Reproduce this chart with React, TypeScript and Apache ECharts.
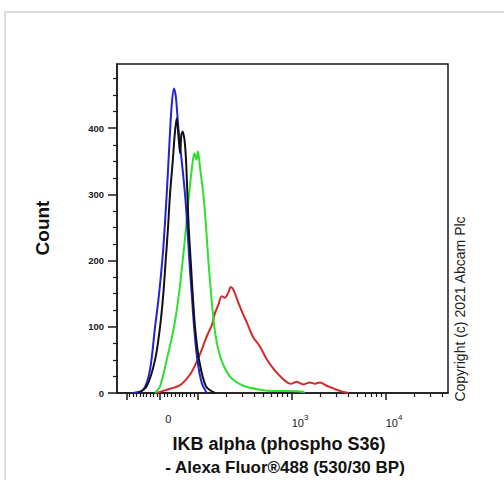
import React, { useEffect, useRef } from 'react';
import * as echarts from 'echarts';

// x values are in display units of the biexponential axis (10^2 -> 2, 10^3 -> 3, 10^4 -> 4)
const blueX = [1.315, 1.421, 1.492, 1.546, 1.581, 1.610, 1.634, 1.670, 1.698, 1.723, 1.748, 1.769, 1.794, 1.830, 1.865, 1.890, 1.911, 1.936, 1.961, 1.996, 2.043, 2.096];
const blueCount = [0, 5, 35, 100, 140, 180, 220, 300, 375, 435, 460, 445, 400, 350, 300, 250, 200, 150, 100, 50, 15, 0];

const blackX = [1.368, 1.457, 1.546, 1.599, 1.634, 1.659, 1.684, 1.705, 1.734, 1.755, 1.776, 1.794, 1.812, 1.826, 1.840, 1.861, 1.876, 1.890, 1.904, 1.925, 1.946, 1.971, 2.014, 2.088, 2.184];
const blackCount = [0, 10, 50, 100, 150, 200, 250, 300, 350, 390, 415, 390, 362, 390, 395, 380, 350, 300, 250, 200, 150, 100, 50, 10, 0];

const greenX = [1.546, 1.599, 1.670, 1.748, 1.801, 1.840, 1.876, 1.908, 1.947, 1.965, 1.980, 1.989, 2.000, 2.007, 2.025, 2.060, 2.089, 2.113, 2.142, 2.177, 2.220, 2.280, 2.362, 2.486, 2.663, 2.805, 2.947, 3.124, 3.130];
const greenCount = [0, 10, 50, 100, 150, 200, 250, 300, 350, 362, 355, 352, 365, 362, 340, 300, 250, 200, 150, 100, 65, 40, 22, 11, 5, 3, 3, 2, 0];

const redX = [1.564, 1.670, 1.812, 1.918, 1.989, 2.042, 2.078, 2.113, 2.149, 2.184, 2.219, 2.255, 2.290, 2.326, 2.351, 2.379, 2.415, 2.450, 2.485, 2.521, 2.556, 2.591, 2.627, 2.663, 2.734, 2.805, 2.893, 2.964, 3.000, 3.053, 3.088, 3.124, 3.195, 3.248, 3.301, 3.372, 3.443, 3.514, 3.567, 3.602];
const redCount = [0, 5, 12, 28, 47, 65, 79, 91, 102, 121, 133, 146, 144, 152, 160, 156, 143, 130, 118, 107, 95, 84, 77, 70, 51, 37, 23, 15, 14, 17, 15, 13, 16, 14, 16, 11, 7, 3, 1, 0];

const xMajorTicks = [-100, 0, 100, 1000, 10000];
const xMinorTicks = [-90, -80, -70, -60, -50, -40, -30, -20, -10, 10, 20, 30, 40, 50, 60, 70, 80, 90,
  200, 300, 400, 500, 600, 700, 800, 900, 2000, 3000, 4000, 5000, 6000, 7000, 8000, 9000, 20000, 30000, 40000];
const xLabelValues = [0, 1000, 10000];
const yMajorTicks = [0, 100, 200, 300, 400];
const yMinorTicks = [25, 50, 75, 125, 150, 175, 225, 250, 275, 325, 350, 375, 425, 450, 475];

const X_MIN = 1.141;
const X_MAX = 4.663;
const Y_MAX = 497;

function toDisplay(v: number): number {
  if (v >= 100) return Math.log10(v);
  if (v >= 0) return 1.6 + 0.004 * v;
  return 1.6 + 0.0036 * v;
}

const zip = (xs: number[], ys: number[]) => xs.map((x, i) => [x, ys[i]]);

const FONT = '"Liberation Sans", Arial, Helvetica, sans-serif';
const AXIS_COLOR = '#1a1a1a';

export default function App() {
  const ref = useRef<HTMLDivElement>(null);
  useEffect(() => {
    document.body.style.margin = '0';
    if (!ref.current) return;
    const chart = echarts.init(ref.current, null, { renderer: 'svg' });
    const lineSeries = (name: string, xs: number[], ys: number[], color: string) => ({
      name,
      type: 'line',
      data: zip(xs, ys),
      showSymbol: false,
      smooth: 0.3,
      lineStyle: { color, width: 2 },
      itemStyle: { color },
      xAxisIndex: 0,
      yAxisIndex: 0,
    });
    chart.setOption({
      animation: false,
      backgroundColor: '#ffffff',
      grid: {
        left: 117, top: 64, right: 56, bottom: 87,
        show: true, borderColor: AXIS_COLOR, borderWidth: 1.5, backgroundColor: 'transparent',
      },
      xAxis: [
        {
          type: 'value', min: X_MIN, max: X_MAX, position: 'bottom',
          axisLine: { show: true, onZero: false, lineStyle: { color: AXIS_COLOR, width: 1.5 } },
          axisTick: { show: true, customValues: xMajorTicks.map(toDisplay), length: 7, lineStyle: { color: AXIS_COLOR, width: 1.5 } },
          axisLabel: {
            show: true,
            customValues: xLabelValues.map(toDisplay),
            align: 'left',
            margin: 20,
            color: '#222',
            fontFamily: FONT,
            formatter: (v: number) => {
              if (Math.abs(v - 3) < 0.01) return '{b|10}{s|3}';
              if (Math.abs(v - 4) < 0.01) return '{b|10}{s|4}';
              return '{z|0}';
            },
            rich: {
              b: { fontSize: 11, fontFamily: FONT, color: '#222', verticalAlign: 'bottom' },
              s: { fontSize: 8, fontFamily: FONT, color: '#222', verticalAlign: 'bottom', padding: [0, 0, 7, 0] },
              z: { fontSize: 11, fontFamily: FONT, color: '#222', padding: [0, 0, 0, 5] },
            },
          },
          splitLine: { show: false },
        },
        {
          type: 'value', min: X_MIN, max: X_MAX, position: 'bottom',
          axisLine: { show: false, onZero: false },
          axisTick: { show: true, customValues: xMinorTicks.map(toDisplay), length: 4, lineStyle: { color: AXIS_COLOR, width: 1.2 } },
          axisLabel: { show: false },
          splitLine: { show: false },
        },
      ],
      yAxis: [
        {
          type: 'value', min: 0, max: Y_MAX, position: 'left',
          axisLine: { show: true, onZero: false, lineStyle: { color: AXIS_COLOR, width: 1.5 } },
          axisTick: { show: true, customValues: yMajorTicks, length: 9, lineStyle: { color: AXIS_COLOR, width: 1.5 } },
          axisLabel: {
            show: true, customValues: yMajorTicks, margin: 13,
            fontSize: 9.5, fontWeight: 'bold', color: '#222', fontFamily: FONT,
          },
          splitLine: { show: false },
        },
        {
          type: 'value', min: 0, max: Y_MAX, position: 'left',
          axisLine: { show: false, onZero: false },
          axisTick: { show: true, customValues: yMinorTicks, length: 4, lineStyle: { color: AXIS_COLOR, width: 1.2 } },
          axisLabel: { show: false },
          splitLine: { show: false },
        },
      ],
      series: [
        lineSeries('Red', redX, redCount, '#d42a2a'),
        lineSeries('Green', greenX, greenCount, '#2ee02e'),
        lineSeries('Blue', blueX, blueCount, '#2222d8'),
        lineSeries('Black', blackX, blackCount, '#111111'),
      ],
      graphic: [
        {
          type: 'rect', z: -10, silent: true,
          shape: { x: 5, y: 12, width: 620, height: 620 },
          style: { fill: 'none', stroke: '#dcdcdc', lineWidth: 2 },
        },
        {
          type: 'text', x: 42, y: 228, rotation: Math.PI / 2,
          style: { text: 'Count', fontSize: 19, fontWeight: 'bold', fontFamily: FONT, fill: '#111', align: 'center', verticalAlign: 'middle' },
        },
        {
          type: 'text', x: 460, y: 309, rotation: Math.PI / 2,
          style: { text: 'Copyright (c) 2021 Abcam Plc', fontSize: 14, fontFamily: FONT, fill: '#222', align: 'center', verticalAlign: 'middle' },
        },
        {
          type: 'text', x: 279, y: 444,
          style: { text: 'IKB alpha (phospho S36)', fontSize: 18, fontWeight: 'bold', fontFamily: FONT, fill: '#111', align: 'center', verticalAlign: 'middle' },
        },
        {
          type: 'text', x: 285, y: 467,
          style: { text: '- Alexa Fluor®488 (530/30 BP)', fontSize: 17, fontWeight: 'bold', fontFamily: FONT, fill: '#111', align: 'center', verticalAlign: 'middle' },
        },
      ],
    });
    return () => chart.dispose();
  }, []);
  return <div ref={ref} style={{ width: 504, height: 480, position: 'absolute', left: 0, top: 0 }} />;
}
